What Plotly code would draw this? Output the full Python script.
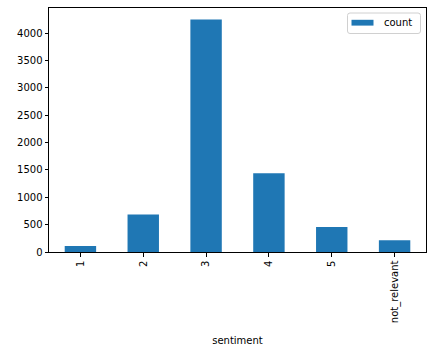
import plotly.graph_objects as go

categories = ["1", "2", "3", "4", "5", "not_relevant"]
counts = [112, 688, 4250, 1440, 457, 213]
series_name = "count"
x_title = "sentiment"
y_ticks = [0, 500, 1000, 1500, 2000, 2500, 3000, 3500, 4000]

W, H = 437, 355
L, R, T, B = 49, 11, 8, 103
PW, PH = W - L - R, H - T - B
BAR_COLOR = "#1f77b4"


def px(x):
    return (x - L) / PW


def py(y):
    return (H - B - y) / PH


fig = go.Figure()
fig.add_trace(go.Bar(x=categories, y=counts, name=series_name,
                     marker=dict(color=BAR_COLOR, line=dict(width=0)),
                     width=0.5, showlegend=False))

# matplotlib-style legend box (rounded frame, wide swatch)
x0, x1, y0, y1, r = 347.5, 420.5, 13.0, 33.5, 2.5
path = (f"M {px(x0 + r)} {py(y0)} L {px(x1 - r)} {py(y0)} "
        f"Q {px(x1)} {py(y0)} {px(x1)} {py(y0 + r)} "
        f"L {px(x1)} {py(y1 - r)} Q {px(x1)} {py(y1)} {px(x1 - r)} {py(y1)} "
        f"L {px(x0 + r)} {py(y1)} Q {px(x0)} {py(y1)} {px(x0)} {py(y1 - r)} "
        f"L {px(x0)} {py(y0 + r)} Q {px(x0)} {py(y0)} {px(x0 + r)} {py(y0)} Z")
fig.add_shape(type="path", path=path, xref="paper", yref="paper",
              line=dict(color="#d0d0d0", width=1), fillcolor="rgba(255,255,255,0.8)")
fig.add_shape(type="rect", xref="paper", yref="paper",
              x0=px(351.5), x1=px(373.5), y0=py(19.8), y1=py(25.6),
              line=dict(width=0), fillcolor=BAR_COLOR)
fig.add_annotation(text=series_name, xref="paper", yref="paper",
                   x=px(382), y=py(22.7), xanchor="left", yanchor="middle",
                   showarrow=False,
                   font=dict(family="DejaVu Sans", size=10, color="#000000"))

font = dict(family="DejaVu Sans", size=10, color="#000000")
fig.update_layout(
    width=W, height=H,
    margin=dict(l=L, r=R, t=T, b=B),
    paper_bgcolor="white", plot_bgcolor="white",
    font=font,
    showlegend=False,
    xaxis=dict(
        type="category", range=[-0.5, 5.5],
        showline=True, linecolor="black", linewidth=1, mirror=True,
        ticks="outside", ticklen=3.5, tickcolor="black",
        tickangle=-90, showgrid=False, zeroline=False,
        title=dict(text=x_title, font=font, standoff=14),
    ),
    yaxis=dict(
        range=[0, 4462],
        tickvals=y_ticks, ticktext=[str(v) for v in y_ticks],
        showline=True, linecolor="black", linewidth=1, mirror=True,
        ticks="outside", ticklen=3.5, tickcolor="black",
        showgrid=False, zeroline=False,
    ),
)
fig.write_html("out.html", config={"displayModeBar": False},
               post_script="document.body.style.margin='0';")
